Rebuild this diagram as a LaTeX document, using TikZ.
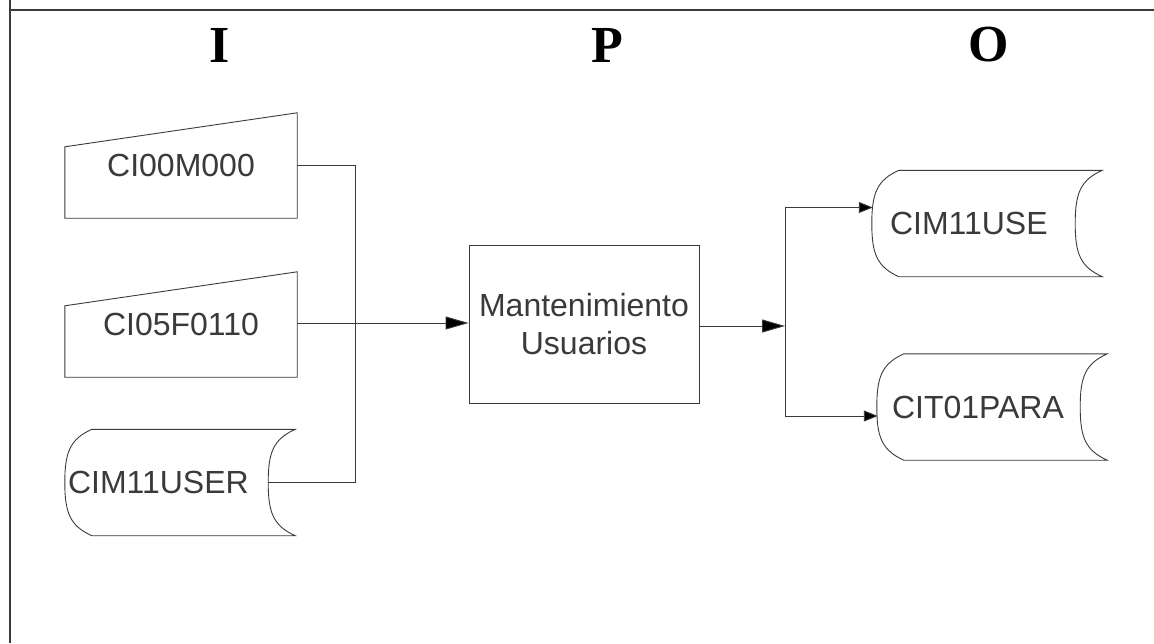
\documentclass[tikz,border=0pt]{standalone}
\usepackage{fontspec}
\setmainfont{Liberation Sans}
\newfontfamily\ipofont{Liberation Serif}
\usepackage{tikz}
\usetikzlibrary{arrows.meta,positioning,calc}
\definecolor{InkGray}{HTML}{3A3A3A}

% outline of a stored data symbol around a named node
\newcommand{\storedata}[1]{%
  \draw[line] ($(#1.north west)+(27pt,0pt)$)
    .. controls ($(#1.north west)+(5pt,-10pt)$) and ($(#1.west)+(0pt,30pt)$) .. (#1.west)
    .. controls ($(#1.west)+(0pt,-30pt)$) and ($(#1.south west)+(5pt,10pt)$) .. ($(#1.south west)+(27pt,0pt)$)
    -- (#1.south east)
    .. controls ($(#1.south east)+(-22pt,10pt)$) and ($(#1.east)+(-27pt,-30pt)$) .. ($(#1.east)+(-27pt,0pt)$)
    .. controls ($(#1.east)+(-27pt,30pt)$) and ($(#1.north east)+(-22pt,-10pt)$) .. (#1.north east)
    -- cycle;}
% outline of a manual input symbol around a named node
\newcommand{\manualinput}[1]{%
  \draw[line] (#1.south west) -- ($(#1.north west)+(0pt,-34pt)$) -- (#1.north east)
    -- (#1.south east) -- cycle;}

\begin{document}
\begin{tikzpicture}[
	x=1pt, y=-1pt,
	line/.style={draw=InkGray, line width=0.9pt},
	frame/.style={draw=InkGray, line width=1.8pt},
	title/.style={font={\ipofont\bfseries\fontsize{52}{52}\selectfont}, text=black, inner sep=0pt},
	label/.style={font={\fontsize{32}{38}\selectfont}, text=InkGray},
	manual/.style={label, minimum width=232pt, minimum height=105pt, inner sep=0pt},
	store/.style={label, minimum width=230pt, minimum height=106pt, align=left, inner ysep=0pt},
	procbox/.style={label, line, minimum width=230pt, minimum height=158pt, align=center, inner sep=0pt},
	arrow/.style={line, -{Triangle[length=23pt, width=13pt, fill=black]}},
	smallarrow/.style={line, -{Triangle[length=14pt, width=11pt, fill=black]}}
]
\useasboundingbox (0,0) rectangle (1154,643);

% frame
\coordinate (ftop) at (10,0);
\coordinate (fbot) at (10,643);
\coordinate (fright) at (1154,10);
\draw[frame] (ftop) -- (fbot);
\draw[frame] (ftop |- fright) -- (fright);

% headings
\node[title] (hi) at (220,45) {I};
\node[title] (hp) at (607,45) {P};
\node[title] (ho) at (989,45) {O};

% inputs
\node[manual] (ci00) at (181,165.5) {CI00M000};
\node[manual] (ci05) at (181,324.5) {CI05F0110};
\node[store, inner xsep=3pt, text width=224pt] (cim11user) at (180,482.5) {CIM11USER};
\manualinput{ci00}
\manualinput{ci05}
\storedata{cim11user}

% process
\node[procbox] (proc) at (584,324) {Mantenimiento\\Usuarios};

% outputs
\node[store, inner xsep=18pt, text width=194pt] (cim11use) at (987,223.5) {CIM11USE};
\node[store, inner xsep=15pt, text width=200pt] (cit01) at (992,407) {CIT01PARA};
\storedata{cim11use}
\storedata{cit01}

% connectors
\coordinate (jin) at (355,323);
\coordinate (jout) at (785,326);
\draw[line] (ci00.east) -| (jin);
\draw[line] ($(cim11user.east)+(-27pt,0pt)$) -| (jin);
\draw[arrow] (ci05.east |- jin) -- (proc.west |- jin);
\draw[arrow] (proc.east |- jout) -- (jout);
\draw[smallarrow] (jout) |- ($(cim11use.west)+(1pt,16pt)$);
\draw[smallarrow] (jout) |- ($(cit01.west)+(1pt,-9pt)$);
\end{tikzpicture}
\end{document}
